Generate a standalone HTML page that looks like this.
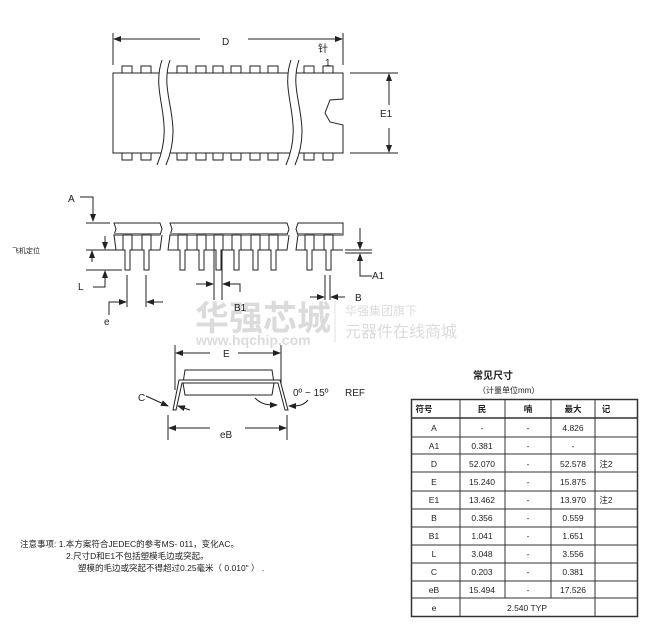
<!DOCTYPE html>
<html><head><meta charset="utf-8"><style>
html,body{margin:0;padding:0;background:#fff;}
svg{display:block;}
text{font-family:"Liberation Sans","Noto Sans CJK SC",sans-serif;fill:#222;}
</style></head><body>
<svg width="653" height="639" viewBox="0 0 653 639" xmlns="http://www.w3.org/2000/svg">
<defs>
<marker id="ar" markerWidth="8" markerHeight="6" refX="7" refY="3" orient="auto" markerUnits="userSpaceOnUse"><path d="M0,0 L8,3 L0,6 z" fill="#222"/></marker>
</defs>
<!-- watermark -->
<g opacity="0.35">
<text x="195" y="330" font-size="34" font-weight="bold" fill="#999" style="fill:#999">华强芯城</text>
<text x="196" y="345" font-size="14" font-weight="bold" style="fill:#999">www.hqchip.com</text>
<line x1="335" y1="300" x2="335" y2="342" stroke="#aaa"/>
<text x="345" y="315" font-size="12" style="fill:#999">华强集团旗下</text>
<text x="345" y="337" font-size="16" style="fill:#999">元器件在线商城</text>
</g>
<g stroke="#222" stroke-width="1" fill="none">
<!-- TOP VIEW -->
<line x1="113" y1="33" x2="113" y2="65"/>
<line x1="343" y1="33" x2="343" y2="65"/>
<line x1="200" y1="39" x2="114" y2="39" marker-end="url(#ar)"/>
<line x1="248" y1="39" x2="342" y2="39" marker-end="url(#ar)"/>
<path d="M113,73 H343 V99 L330,100 L325,113 L330,122 L343,125 V153 H113 Z" fill="#fff"/>
<g fill="#fff">
<rect x="122" y="66" width="10" height="7"/><rect x="141" y="66" width="10" height="7"/>
<rect x="177" y="66" width="10" height="7"/><rect x="196" y="66" width="10" height="7"/>
<rect x="213" y="66" width="10" height="7"/><rect x="231" y="66" width="10" height="7"/>
<rect x="250" y="66" width="10" height="7"/><rect x="268" y="66" width="10" height="7"/>
<rect x="304" y="66" width="10" height="7"/><rect x="323" y="66" width="10" height="7"/>
<rect x="122" y="153" width="10" height="7"/><rect x="141" y="153" width="10" height="7"/>
<rect x="177" y="153" width="10" height="7"/><rect x="196" y="153" width="10" height="7"/>
<rect x="213" y="153" width="10" height="7"/><rect x="231" y="153" width="10" height="7"/>
<rect x="250" y="153" width="10" height="7"/><rect x="268" y="153" width="10" height="7"/>
<rect x="304" y="153" width="10" height="7"/><rect x="323" y="153" width="10" height="7"/>
</g>
<path d="M162,60 C150,95 176,120 157,165 L166,165 C185,120 158,95 170,60 Z" fill="#fff" stroke="none"/>
<path d="M162,60 C150,95 176,120 157,165 M170,60 C158,95 185,120 166,165"/>
<path d="M291,60 C279,95 305,120 286,165 L295,165 C314,120 287,95 299,60 Z" fill="#fff" stroke="none"/>
<path d="M291,60 C279,95 305,120 286,165 M299,60 C287,95 314,120 295,165"/>
<line x1="350" y1="73" x2="398" y2="73"/><line x1="350" y1="153" x2="398" y2="153"/>
<line x1="389" y1="105" x2="389" y2="74" marker-end="url(#ar)"/>
<line x1="389" y1="128" x2="389" y2="152" marker-end="url(#ar)"/>
<!-- SIDE VIEW body -->
<path d="M114,223 H160 L162,229 L160,235 H114 L116,229 Z"/>
<path d="M170,223 H287 L289,229 L287,235 H170 L172,229 Z"/>
<path d="M298,223 H343 V235 H298 L296,229 Z"/>
<line x1="114" y1="234" x2="160" y2="234" stroke="#888" stroke-width="2"/>
<line x1="170" y1="234" x2="287" y2="234" stroke="#888" stroke-width="2"/>
<line x1="298" y1="234" x2="343" y2="234" stroke="#888" stroke-width="2"/>
<path d="M114,235 L116,250 H160 L162,235 M170,235 L168,250 H287 L289,235 M298,235 L296,250 H343" />
<g fill="#fff">
<path d="M123,235 h9 v15 h-2 v20 h-5 v-20 h-2 z"/><path d="M142,235 h9 v15 h-2 v20 h-5 v-20 h-2 z"/>
<path d="M178,235 h9 v15 h-2 v20 h-5 v-20 h-2 z"/><path d="M197,235 h9 v15 h-2 v20 h-5 v-20 h-2 z"/>
<path d="M214,235 h9 v15 h-2 v20 h-5 v-20 h-2 z"/><path d="M232,235 h9 v15 h-2 v20 h-5 v-20 h-2 z"/>
<path d="M251,235 h9 v15 h-2 v20 h-5 v-20 h-2 z"/><path d="M269,235 h9 v15 h-2 v20 h-5 v-20 h-2 z"/>
<path d="M305,235 h9 v15 h-2 v20 h-5 v-20 h-2 z"/><path d="M324,235 h9 v15 h-2 v20 h-5 v-20 h-2 z"/>
</g>
<!-- A -->
<path d="M80,197 H93 V221" marker-end="url(#ar)"/>
<line x1="86" y1="223" x2="110" y2="223"/>
<!-- L -->
<line x1="86" y1="250" x2="120" y2="250"/><line x1="86" y1="270" x2="122" y2="270"/>
<line x1="105" y1="236" x2="105" y2="249" marker-end="url(#ar)"/>
<line x1="92" y1="262" x2="92" y2="251" marker-end="url(#ar)"/>
<path d="M93,287 H105 V271" marker-end="url(#ar)"/>
<!-- e -->
<line x1="127" y1="275" x2="127" y2="307"/><line x1="146" y1="275" x2="146" y2="307"/>
<path d="M109,315 V302 H126" marker-end="url(#ar)"/>
<line x1="163" y1="302" x2="147" y2="302" marker-end="url(#ar)"/>
<!-- B1 -->
<line x1="214" y1="250" x2="214" y2="300"/><line x1="222" y1="250" x2="222" y2="300"/>
<line x1="196" y1="284" x2="213" y2="284" marker-end="url(#ar)"/>
<path d="M240,292 V284 H223" marker-end="url(#ar)"/>
<!-- B -->
<line x1="325" y1="275" x2="325" y2="300"/><line x1="330" y1="275" x2="330" y2="300"/>
<line x1="310" y1="297" x2="324" y2="297" marker-end="url(#ar)"/>
<line x1="345" y1="297" x2="331" y2="297" marker-end="url(#ar)"/>
<!-- A1 -->
<line x1="345" y1="250" x2="372" y2="250"/><line x1="345" y1="253" x2="372" y2="253"/>
<line x1="360" y1="228" x2="360" y2="249" marker-end="url(#ar)"/>
<path d="M372,276 H360 V254" marker-end="url(#ar)"/>
<!-- END VIEW -->
<line x1="175" y1="345" x2="175" y2="390"/><line x1="281" y1="345" x2="281" y2="390"/>
<line x1="210" y1="353" x2="176" y2="353" marker-end="url(#ar)"/>
<line x1="238" y1="353" x2="280" y2="353" marker-end="url(#ar)"/>
<path d="M185,370 H272 L274,383 L272,395 H185 L183,383 Z"/>
<path d="M173,410 L179,380 H280 L288,410 H285 L278,383 H182 L176,410 Z" fill="#fff"/>
<path d="M146,396 L168,406" marker-end="url(#ar)"/>
<line x1="190" y1="410" x2="178" y2="406" marker-end="url(#ar)"/>
<path d="M255,398 C262,405 268,405 277,405" marker-end="url(#ar)"/>
<path d="M308,400 C303,406 298,406 289,406" marker-end="url(#ar)"/>
<line x1="168" y1="415" x2="168" y2="440"/><line x1="287" y1="415" x2="287" y2="440"/>
<line x1="210" y1="428" x2="169" y2="428" marker-end="url(#ar)"/>
<line x1="245" y1="428" x2="286" y2="428" marker-end="url(#ar)"/>
</g>
<g font-size="10">
<text x="222" y="45">D</text>
<text x="318" y="52">针</text>
<text x="325" y="66">1</text>
<text x="380" y="117">E1</text>
<text x="68" y="202">A</text>
<text x="12" y="253" font-size="7">飞机定位</text>
<text x="78" y="290">L</text>
<text x="104" y="325">e</text>
<text x="234" y="311">B1</text>
<text x="355" y="301">B</text>
<text x="372" y="279">A1</text>
<text x="223" y="357">E</text>
<text x="138" y="401">C</text>
<text x="293" y="396">0º ~ 15º</text>
<text x="345" y="396">REF</text>
<text x="220" y="438">eB</text>
</g>
<!-- notes -->
<g font-size="8.5">
<text x="20" y="547">注意事项:  1.本方案符合JEDEC的参考MS- 011，变化AC。</text>
<text x="66" y="559">2.尺寸D和E1不包括塑模毛边或突起。</text>
<text x="78" y="571">塑模的毛边或突起不得超过0.25毫米（ 0.010" ）  .</text>
</g>
<!-- table -->
<text x="473" y="379" font-size="10" font-weight="bold">常见尺寸</text>
<text x="478" y="393" font-size="8">（计量单位mm）</text>
<g stroke="#333" fill="none">
<rect x="411.5" y="399.5" width="226" height="217" stroke-width="1.5"/>
<line x1="411" y1="418" x2="637" y2="418" stroke-width="1.5"/>
<line x1="411" y1="437" x2="637" y2="437"/><line x1="411" y1="454" x2="637" y2="454"/>
<line x1="411" y1="472" x2="637" y2="472"/><line x1="411" y1="491" x2="637" y2="491"/>
<line x1="411" y1="509" x2="637" y2="509"/><line x1="411" y1="527" x2="637" y2="527"/>
<line x1="411" y1="545" x2="637" y2="545"/><line x1="411" y1="563" x2="637" y2="563"/>
<line x1="411" y1="581" x2="637" y2="581"/><line x1="411" y1="598" x2="637" y2="598"/>
<line x1="460" y1="400" x2="460" y2="616"/><line x1="595" y1="400" x2="595" y2="616"/>
<line x1="505" y1="400" x2="505" y2="598"/><line x1="551" y1="400" x2="551" y2="598"/>
</g>
<g font-size="8.5" text-anchor="middle">
<text x="424" y="412" font-weight="bold">符号</text><text x="482" y="412" font-weight="bold">民</text>
<text x="528" y="412" font-weight="bold">喃</text><text x="573" y="412" font-weight="bold">最大</text>
<text x="606" y="412" font-weight="bold">记</text>
<text x="434" y="431">A</text><text x="482" y="431">-</text><text x="528" y="431">-</text><text x="573" y="431">4.826</text>
<text x="434" y="449">A1</text><text x="482" y="449">0.381</text><text x="528" y="449">-</text><text x="573" y="449">-</text>
<text x="434" y="467">D</text><text x="482" y="467">52.070</text><text x="528" y="467">-</text><text x="573" y="467">52.578</text><text x="606" y="467">注2</text>
<text x="434" y="485">E</text><text x="482" y="485">15.240</text><text x="528" y="485">-</text><text x="573" y="485">15.875</text>
<text x="434" y="503">E1</text><text x="482" y="503">13.462</text><text x="528" y="503">-</text><text x="573" y="503">13.970</text><text x="606" y="503">注2</text>
<text x="434" y="521">B</text><text x="482" y="521">0.356</text><text x="528" y="521">-</text><text x="573" y="521">0.559</text>
<text x="434" y="539">B1</text><text x="482" y="539">1.041</text><text x="528" y="539">-</text><text x="573" y="539">1.651</text>
<text x="434" y="557">L</text><text x="482" y="557">3.048</text><text x="528" y="557">-</text><text x="573" y="557">3.556</text>
<text x="434" y="575">C</text><text x="482" y="575">0.203</text><text x="528" y="575">-</text><text x="573" y="575">0.381</text>
<text x="434" y="593">eB</text><text x="482" y="593">15.494</text><text x="528" y="593">-</text><text x="573" y="593">17.526</text>
<text x="434" y="611">e</text><text x="527" y="611">2.540 TYP</text>
</g>
</svg>
</body></html>
